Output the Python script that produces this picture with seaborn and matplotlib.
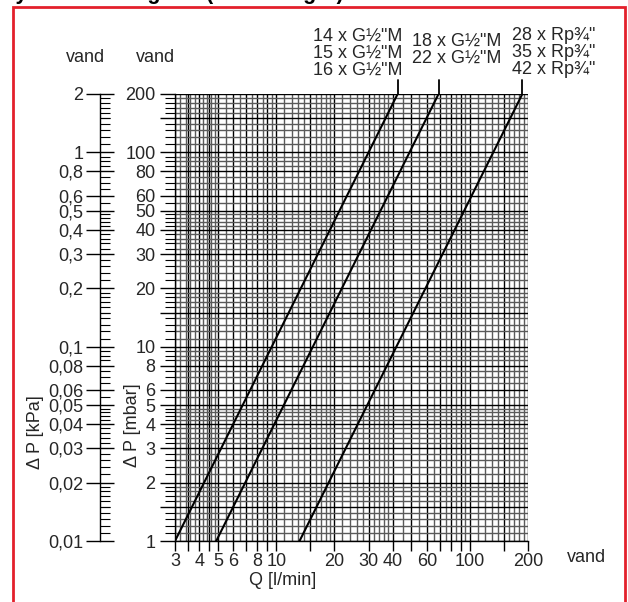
import numpy as np
import pandas as pd
import matplotlib
matplotlib.use("Agg")
import matplotlib.pyplot as plt
import seaborn as sns
from matplotlib.ticker import FixedLocator, FixedFormatter, NullFormatter
from matplotlib.patches import Rectangle

# ---------------- data ----------------
series_labels = ['14 x G½"M\n15 x G½"M\n16 x G½"M',
                 '18 x G½"M\n22 x G½"M',
                 '28 x Rp¾"\n35 x Rp¾"\n42 x Rp¾"']
flow_at_1mbar = [3.0, 4.9, 13.2]        # Q [l/min] at 1 mbar
flow_at_200mbar = [42.4, 69.0, 187.0]   # Q [l/min] at 200 mbar
dp_ends = [1, 200]                       # mbar

x_labeled = [3, 4, 5, 6, 8, 10, 20, 30, 40, 60, 100, 200]
x_unlabeled = [3.5, 4.5, 7, 9, 15, 50, 70, 80, 90, 150]
mbar_labeled = [1, 2, 3, 4, 5, 6, 8, 10, 20, 30, 40, 50, 60, 80, 100, 200]
mbar_unlabeled = [1.5, 15, 150]
kpa_labeled = [0.01, 0.02, 0.03, 0.04, 0.05, 0.06, 0.08, 0.1,
               0.2, 0.3, 0.4, 0.5, 0.6, 0.8, 1, 2]
kpa_text = ['0,01', '0,02', '0,03', '0,04', '0,05', '0,06', '0,08', '0,1',
            '0,2', '0,3', '0,4', '0,5', '0,6', '0,8', '1', '2']

rows = []
for name, q1, q2 in zip(series_labels, flow_at_1mbar, flow_at_200mbar):
    rows.append({"series": name, "Q": q1, "dP": dp_ends[0]})
    rows.append({"series": name, "Q": q2, "dP": dp_ends[1]})
df = pd.DataFrame(rows)

# ---------------- style ----------------
sns.set_theme(style="white")
plt.rcParams["font.family"] = ["Liberation Sans", "DejaVu Sans"]
FS = 13
plt.rcParams["font.size"] = FS

fig = plt.figure(figsize=(6.28, 6.02), dpi=100)
W, H = 628, 602
ax = fig.add_axes([175 / W, (H - 541) / H, 353 / W, 447 / H])


def seg(a, b, s):
    return np.arange(a, b + 1e-9, s)


xg = np.unique(np.round(np.concatenate([seg(3, 5, 0.2), seg(5, 10, 0.5), seg(10, 20, 1),
                                        seg(20, 40, 2), seg(40, 100, 5), seg(100, 200, 10)]), 4))
yg = np.unique(np.round(np.concatenate([seg(1, 2, 0.1), seg(2, 5, 0.2), seg(5, 10, 0.5),
                                        seg(10, 20, 1), seg(20, 50, 2), seg(50, 100, 5),
                                        seg(100, 200, 10)]), 4))

ax.set_xscale("log")
ax.set_yscale("log")

sns.lineplot(data=df, x="Q", y="dP", hue="series", palette=["black"] * 3,
             legend=False, lw=1.5, ax=ax, zorder=5)

ax.set_xlim(3, 200)
ax.set_ylim(1, 200)

# x ticks
xmaj = sorted(x_labeled + x_unlabeled)
ax.xaxis.set_major_locator(FixedLocator(xmaj))
ax.xaxis.set_major_formatter(FixedFormatter([str(v) if v in x_labeled else "" for v in xmaj]))
ax.xaxis.set_minor_locator(FixedLocator(xg))
ax.xaxis.set_minor_formatter(NullFormatter())
ax.tick_params(axis="x", which="major", direction="out", length=7, width=1,
               color="black", labelsize=FS, pad=2, bottom=True)
ax.tick_params(axis="x", which="minor", length=0, bottom=True)

# y ticks (mbar)
ymaj = sorted(mbar_labeled + mbar_unlabeled)
ax.yaxis.set_major_locator(FixedLocator(ymaj))
ax.yaxis.set_major_formatter(FixedFormatter([str(v) if v in mbar_labeled else "" for v in ymaj]))
ax.yaxis.set_minor_locator(FixedLocator(yg))
ax.yaxis.set_minor_formatter(NullFormatter())
ax.tick_params(axis="y", which="major", direction="out", length=11, width=1,
               color="black", labelsize=FS, pad=3, left=True)
ax.tick_params(axis="y", which="minor", direction="out", length=7, width=0.8,
               color="black", left=True)

# grid
ax.grid(which="major", color="black", lw=1.0)
ax.grid(which="minor", color="#5a5a5a", lw=1.0)
ax.set_axisbelow(True)
for s in ["top", "right"]:
    ax.spines[s].set_visible(False)
for s in ["left", "bottom"]:
    ax.spines[s].set_color("black")
    ax.spines[s].set_linewidth(1)

ax.set_xlabel("Q [l/min]", fontsize=FS)
ax.xaxis.set_label_coords(283 / W, 1 - 572 / H, transform=fig.transFigure)
ax.set_ylabel("Δ P [mbar]", fontsize=FS)
ax.yaxis.set_label_coords(141 / W, 1 - 425 / H, transform=fig.transFigure)

# secondary kPa axis
sec = ax.secondary_yaxis(-75 / 353, functions=(lambda y: y / 100, lambda y: y * 100))
sec.yaxis.set_major_locator(FixedLocator(kpa_labeled))
sec.yaxis.set_major_formatter(FixedFormatter(kpa_text))
sec.yaxis.set_minor_locator(FixedLocator(list(yg / 100) + [0.015, 0.15, 1.5]))
sec.yaxis.set_minor_formatter(NullFormatter())
sec.tick_params(which="major", direction="inout", length=20, width=1, color="black",
                labelsize=FS, pad=2)
sec.tick_params(which="minor", direction="in", length=7, width=0.8, color="black")
sec.spines["left"].set_color("black")
sec.spines["left"].set_linewidth(1)
sec.set_ylabel("Δ P [kPa]", fontsize=FS)
sec.yaxis.set_label_coords(44 / W, 1 - 432 / H, transform=fig.transFigure)

# leader lines and series labels
offsets = [((5, 2), "right"), ((18, 14), "center"), ((-10, 2), "left")]
for name, q2, (off, ha) in zip(series_labels, flow_at_200mbar, offsets):
    ax.plot([q2, q2], [dp_ends[1], 235], color="black", lw=1.3, clip_on=False)
    ax.annotate(name, xy=(q2, 235), xytext=off, textcoords="offset pixels",
                ha=ha, va="bottom", fontsize=FS, linespacing=1.0,
                annotation_clip=False, multialignment=ha)

# "vand" labels
fig.text(85 / W, 1 - 57 / H, "vand", ha="center", va="center", fontsize=FS)
fig.text(155 / W, 1 - 57 / H, "vand", ha="center", va="center", fontsize=FS)
fig.text(567 / W, 1 - 558 / H, "vand", ha="left", va="center", fontsize=FS)

# truncated heading (cut by the top edge, as in the source) and red frame
fig.text(0.0, 1.0 + 0.5 / H, "Hydraulisk diagram (tilslutninger)", ha="left", va="baseline",
         fontsize=15.5, fontweight="bold", color="black")
fig.patches.append(Rectangle((13 / W, -0.05), (625 - 13) / W, 1.05 - 7 / H,
                             transform=fig.transFigure, fill=False,
                             edgecolor="#e3202b", lw=2))

fig.savefig("out.png", dpi=100)
